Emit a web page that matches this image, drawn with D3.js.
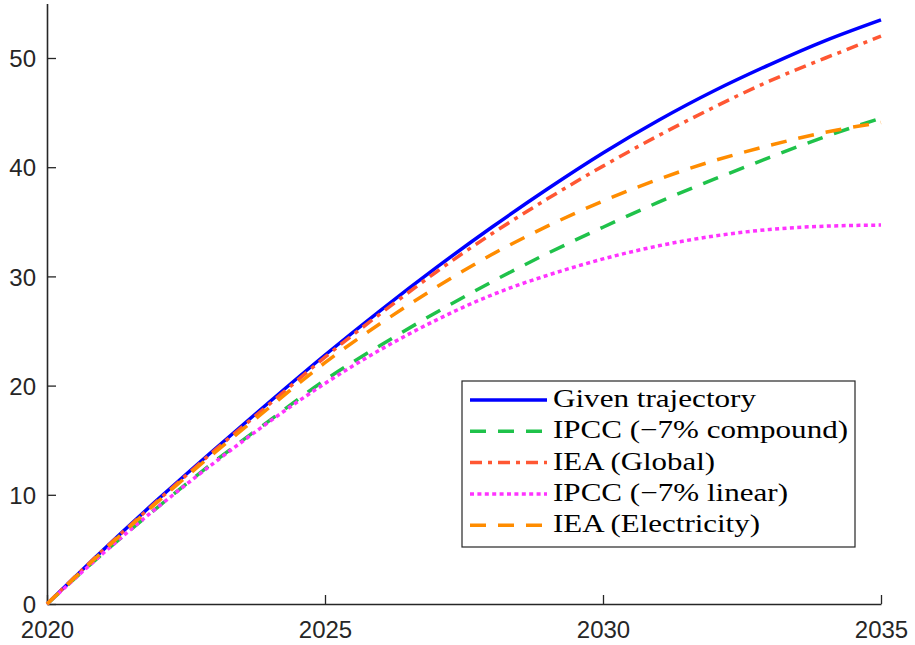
<!DOCTYPE html>
<html>
<head>
<meta charset="utf-8">
<script src="https://cdn.jsdelivr.net/npm/d3@7"></script>
<style>
  html, body { margin: 0; padding: 0; background: #fff; }
  svg { display: block; }
</style>
</head>
<body>
<svg id="chart" width="915" height="645"></svg>
<script>
// ---- data ----
const years = [2020,2021,2022,2023,2024,2025,2026,2027,2028,2029,2030,2031,2032,2033,2034,2035];
const givenTrajectory = [0,4.9,9.6,14.1,18.5,22.8,26.9,30.8,34.5,38.0,41.3,44.3,47.0,49.4,51.6,53.5];
const ipccCompound   = [0,4.6,8.9,13.0,16.8,20.5,23.7,26.7,29.5,32.1,34.5,36.8,38.9,40.9,42.8,44.5];
const ieaGlobal      = [0,4.9,9.5,14.0,18.3,22.6,26.6,30.4,33.9,37.1,40.1,42.9,45.5,47.9,50.0,52.0];
const ipccLinear     = [0,4.6,8.9,12.9,16.7,20.2,23.3,26.0,28.3,30.1,31.6,32.8,33.7,34.3,34.6,34.7];
const ieaElectricity = [0,4.8,9.4,13.8,18.0,22.1,25.7,29.0,32.0,34.6,36.9,38.9,40.6,42.0,43.2,44.1];
const seriesNames = ["Given trajectory","IPCC (\u22127% compound)","IEA (Global)","IPCC (\u22127% linear)","IEA (Electricity)"];
const xTicks = [2020,2025,2030,2035];
const yTicks = [0,10,20,30,40,50];

// ---- styles ----
const styles = [
  {color:"#0000ff", dash:null},
  {color:"#1fc24a", dash:"16,12"},
  {color:"#ff5733", dash:"12,6,4,6"},
  {color:"#ff33ff", dash:"4,3.4"},
  {color:"#ff8c00", dash:"16,12"}
];
const textWidths = [203,295,162,235,207];
const seriesValues = [givenTrajectory, ipccCompound, ieaGlobal, ipccLinear, ieaElectricity];

const svg = d3.select("#chart");
const x = d3.scaleLinear().domain([2020,2035]).range([47,881]);
const y = d3.scaleLinear().domain([0,55]).range([604,3.4]);
const axisColor = "#262626";

// axes
const gx = svg.append("g").attr("transform","translate(0,604)")
  .call(d3.axisBottom(x).tickValues(xTicks).tickFormat(d3.format("d")).tickSize(-9).tickSizeOuter(0).tickPadding(12));
const gy = svg.append("g").attr("transform","translate(47,0)")
  .call(d3.axisLeft(y).tickValues(yTicks).tickSize(-9).tickSizeOuter(0).tickPadding(12));
[gx,gy].forEach(g=>{
  g.select(".domain").attr("stroke",axisColor).attr("stroke-width",1.6);
  g.selectAll(".tick line").attr("stroke",axisColor).attr("stroke-width",1.3);
  g.selectAll(".tick text").attr("fill",axisColor)
    .style("font-family","'Liberation Sans', Arial, sans-serif").style("font-size","24px");
});
gx.selectAll(".tick text").attr("dy",null).attr("y",34);
gy.selectAll(".tick text").attr("x",-11).attr("dy","0.36em");

// lines
const line = d3.line().x((d,i)=>x(years[i])).y(d=>y(d)).curve(d3.curveNatural);
seriesValues.forEach((vals,k)=>{
  svg.append("path").datum(vals)
    .attr("d",line)
    .attr("fill","none")
    .attr("stroke",styles[k].color)
    .attr("stroke-width",3.5)
    .attr("stroke-dasharray",styles[k].dash)
    .attr("stroke-linejoin","round");
});

// legend
const lg = svg.append("g");
lg.append("rect").attr("x",462).attr("y",381).attr("width",393).attr("height",166)
  .attr("fill","#fff").attr("stroke",axisColor).attr("stroke-width",1.2);
seriesNames.forEach((name,k)=>{
  const by = 407 + k*31.3;
  lg.append("line").attr("x1",470).attr("x2",547).attr("y1",by-7).attr("y2",by-7)
    .attr("stroke",styles[k].color).attr("stroke-width",3.5)
    .attr("stroke-dasharray",styles[k].dash);
  lg.append("text").attr("x",553).attr("y",by)
    .attr("textLength",textWidths[k]).attr("lengthAdjust","spacingAndGlyphs")
    .style("font-family","'Liberation Serif', 'DejaVu Serif', serif")
    .style("font-size","25px").attr("fill","#000")
    .text(name);
});
</script>
</body>
</html>
